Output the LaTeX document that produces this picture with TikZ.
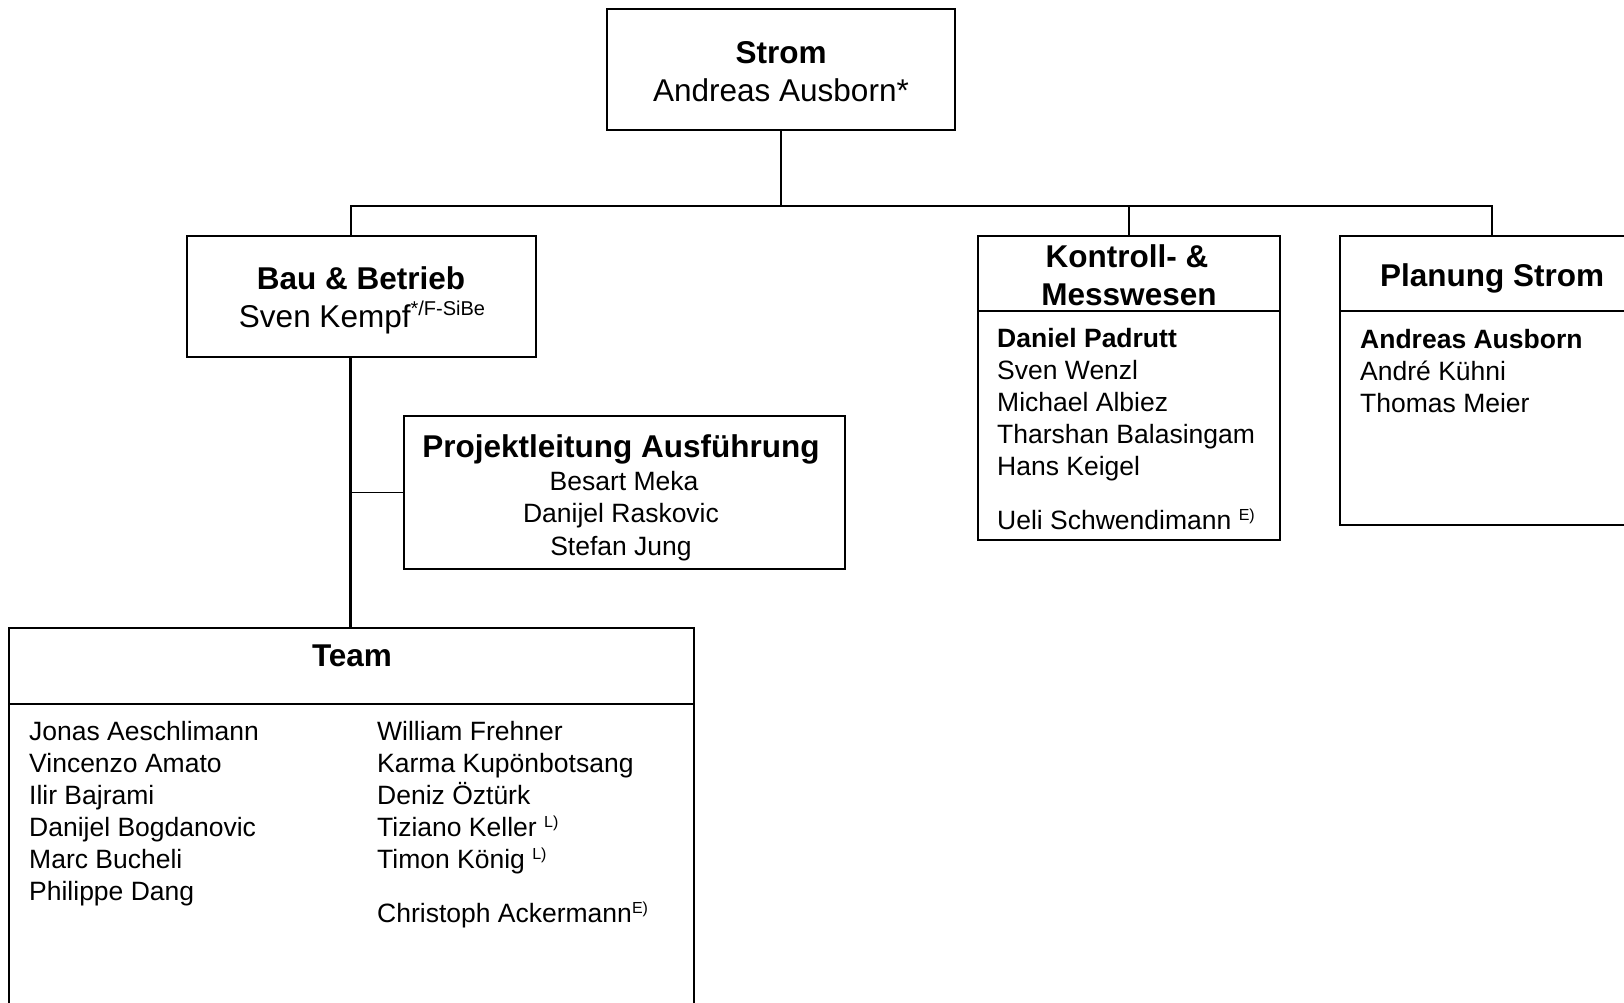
\documentclass[tikz,border=0pt]{standalone}
\usepackage{fontspec}
\setmainfont{Liberation Sans}
\newcommand{\bigf}{\fontsize{31.5}{38}\selectfont}
\newcommand{\smf}{\fontsize{26.5}{32}\selectfont}
\newcommand{\supx}[1]{\raisebox{12pt}{\fontsize{20}{20}\selectfont #1}}
\newcommand{\supy}[1]{\raisebox{9pt}{\fontsize{16}{16}\selectfont #1}}
\begin{document}
\begin{tikzpicture}[x=1pt,y=-1pt,
  box/.style={draw,line width=1.6pt,inner sep=0pt},
  conn/.style={line width=1.6pt},
  thickconn/.style={line width=3pt},
  ctr/.style={inner sep=0pt,anchor=base},
  lft/.style={inner sep=0pt,anchor=base west}]
\clip (0,0) rectangle (1624,1003);
\fill[white] (0,0) rectangle (1624,1003);

% boxes
\node[box,minimum width=348pt,minimum height=121pt] (strom) at (781,69.5) {};
\node[box,minimum width=349pt,minimum height=121pt] (bau) at (361.5,296.5) {};
\node[box,minimum width=441pt,minimum height=153pt] (pl) at (624.5,492.5) {};
\node[box,minimum width=302pt,minimum height=304pt] (kontroll) at (1129,388) {};
\node[box,minimum width=304pt,minimum height=289pt] (planung) at (1492,380.5) {};
\node[box,minimum width=685pt,minimum height=382pt] (team) at (351.5,819) {};

% dividers
\draw[conn] (kontroll.west |- 0,311) coordinate (kd1) -- (kontroll.east |- kd1) coordinate (kd2);
\draw[conn] (planung.west |- 0,311) coordinate (pd1) -- (planung.east |- pd1) coordinate (pd2);
\draw[line width=2.4pt] (team.west |- 0,704) coordinate (td1) -- (team.east |- td1) coordinate (td2);

% connectors
\coordinate (bus) at (781,206);
\coordinate (bauin) at (351,236);
\coordinate (bauout) at (350,357);
\draw[conn] (strom.south) -- (bus);
\draw[conn] (bauin) |- (planung.north |- bus) -- (planung.north);
\draw[conn] (kontroll.north) -- (kontroll.north |- bus);
\draw[thickconn] (bauout) -- (bauout |- team.north);
\draw[conn] (pl.west) -- (pl.west -| bauout);

% Strom
\node[ctr,font=\bigf\bfseries] (t1) at (781,64) {Strom};
\node[ctr,font=\bigf] (t2) at (781,102) {Andreas Ausborn*};

% Bau
\node[ctr,font=\bigf\bfseries] (t3) at (361,289) {Bau \& Betrieb};
\node[ctr,font=\bigf] (t4) at (362,327) {Sven Kempf\supx{*/F-SiBe}};

% Projektleitung
\node[ctr,font=\bigf\bfseries] (t5) at (621,457) {Projektleitung Ausführung};
\node[ctr,font=\smf] (t6) at (624,490) {Besart Meka};
\node[ctr,font=\smf] (t7) at (621,522) {Danijel Raskovic};
\node[ctr,font=\smf] (t8) at (621,555) {Stefan Jung};

% Kontroll
\node[ctr,font=\bigf\bfseries] (t9) at (1127,267) {Kontroll- \&};
\node[ctr,font=\bigf\bfseries] (t10) at (1129,305) {Messwesen};
\node[lft,font=\smf\bfseries] (k1) at (997,347) {Daniel Padrutt};
\node[lft,font=\smf] (k2) at (997,379) {Sven Wenzl};
\node[lft,font=\smf] (k3) at (997,411) {Michael Albiez};
\node[lft,font=\smf] (k4) at (997,443) {Tharshan Balasingam};
\node[lft,font=\smf] (k5) at (997,475) {Hans Keigel};
\node[lft,font=\smf] (k6) at (997,529) {Ueli Schwendimann \supy{E)}};

% Planung
\node[ctr,font=\bigf\bfseries] (t11) at (1492,286) {Planung Strom};
\node[lft,font=\smf\bfseries] (p1) at (1360,348) {Andreas Ausborn};
\node[lft,font=\smf] (p2) at (1360,380) {André Kühni};
\node[lft,font=\smf] (p3) at (1360,412) {Thomas Meier};

% Team
\node[ctr,font=\bigf\bfseries] (t12) at (352,666) {Team};
\node[lft,font=\smf] (a1) at (29,740) {Jonas Aeschlimann};
\node[lft,font=\smf] (a2) at (29,772) {Vincenzo Amato};
\node[lft,font=\smf] (a3) at (29,804) {Ilir Bajrami};
\node[lft,font=\smf] (a4) at (29,836) {Danijel Bogdanovic};
\node[lft,font=\smf] (a5) at (29,868) {Marc Bucheli};
\node[lft,font=\smf] (a6) at (29,900) {Philippe Dang};
\node[lft,font=\smf] (b1) at (377,740) {William Frehner};
\node[lft,font=\smf] (b2) at (377,772) {Karma Kupönbotsang};
\node[lft,font=\smf] (b3) at (377,804) {Deniz Öztürk};
\node[lft,font=\smf] (b4) at (377,836) {Tiziano Keller \supy{L)}};
\node[lft,font=\smf] (b5) at (377,868) {Timon König \supy{L)}};
\node[lft,font=\smf] (b6) at (377,922) {Christoph Ackermann\supy{E)}};
\end{tikzpicture}
\end{document}
